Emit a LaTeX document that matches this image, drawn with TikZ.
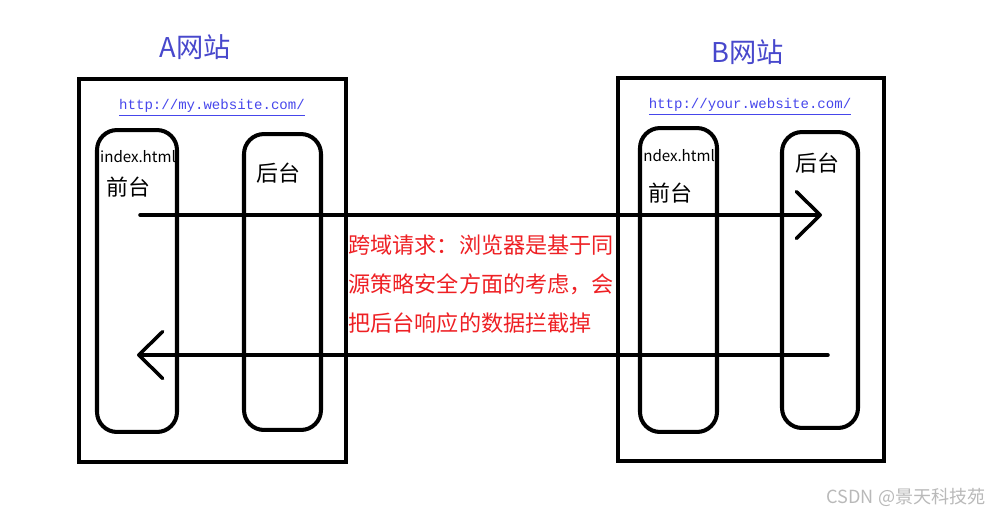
\documentclass[tikz,border=0pt]{standalone}
\usepackage{fontspec}
\setmainfont{Noto Sans CJK SC}
\setmonofont{Liberation Mono}
\usepackage{xcolor}
\usepackage{tikz}
\usetikzlibrary{arrows.meta,calc}
\definecolor{myblue}{RGB}{72,72,204}
\definecolor{myurl}{RGB}{70,70,235}
\definecolor{myred}{RGB}{238,32,36}
\definecolor{mygray}{RGB}{185,185,185}

\begin{document}
\begin{tikzpicture}[x=0.02cm, y=-0.02cm,
  site/.style={rectangle, draw, line width=2.3pt, inner sep=0, outer sep=0},
  tier/.style={rectangle, draw, line width=2.3pt, rounded corners=0.4cm, inner sep=0, outer sep=0},
  title/.style={text=myblue, font=\fontsize{15.5}{18}\selectfont},
  url/.style={text=myurl, font=\fontsize{8}{9}\ttfamily},
  label/.style={font=\fontsize{12.5}{15}\selectfont},
  file/.style={font=\fontsize{8.6}{10}\selectfont, inner sep=0},
  flow/.style={line width=2pt, line cap=round, -{Straight Barb[length=0.48cm, width=0.94cm, line width=2pt, round]}}]

\useasboundingbox (0,0) rectangle (994,518);

% site A
\node[title] (titleA) at (195,47) {A网站};
\node[site, minimum width=5.34cm, minimum height=7.66cm] (siteA) at (212.5,270.5) {};
\node[url] (urlA) at (212,108) {\underline{http://my.website.com/}};
\node[tier, minimum width=1.6cm, minimum height=6.04cm] (frontA) at (137,281) {};
\node[tier, minimum width=1.54cm, minimum height=5.92cm] (backA) at (282.5,282) {};
\node[file] (indexA) at (138,157) {index.html};
\node[label] (frontlabelA) at (128,187) {前台};
\node[label] (backlabelA) at (278,173) {后台};

% site B
\node[title] (titleB) at (748,52) {B网站};
\node[site, minimum width=5.32cm, minimum height=7.66cm] (siteB) at (751,269.5) {};
\node[url] (urlB) at (750,107) {\underline{http://your.website.com/}};
\node[tier, minimum width=1.54cm, minimum height=6.08cm] (frontB) at (678.5,280) {};
\node[tier, minimum width=1.52cm, minimum height=5.92cm] (backB) at (820,280) {};
\node[file] (indexB) at (677,156) {index.html};
\node[label] (frontlabelB) at (670,193) {前台};
\node[label] (backlabelB) at (817,163) {后台};

% request and response
\coordinate (reqy) at (0,215);
\coordinate (respy) at (0,355);
\draw[flow] ($(frontA.center |- reqy)+(3,0)$) -- ($(backB.center |- reqy)+(2,0)$);
\draw[flow] ($(backB.center |- respy)+(8,0)$) -- (frontA.center |- respy);

\node[anchor=west, align=left, text=myred, inner sep=0,
  font=\fontsize{12.6}{22.1}\selectfont] (note) at (348,284)
  {跨域请求：浏览器是基于同\\源策略安全方面的考虑，会\\把后台响应的数据拦截掉};

\node[anchor=east, text=mygray, inner sep=0, font=\fontsize{10.3}{12}\selectfont] (mark) at (986,497) {CSDN @景天科技苑};
\end{tikzpicture}
\end{document}
